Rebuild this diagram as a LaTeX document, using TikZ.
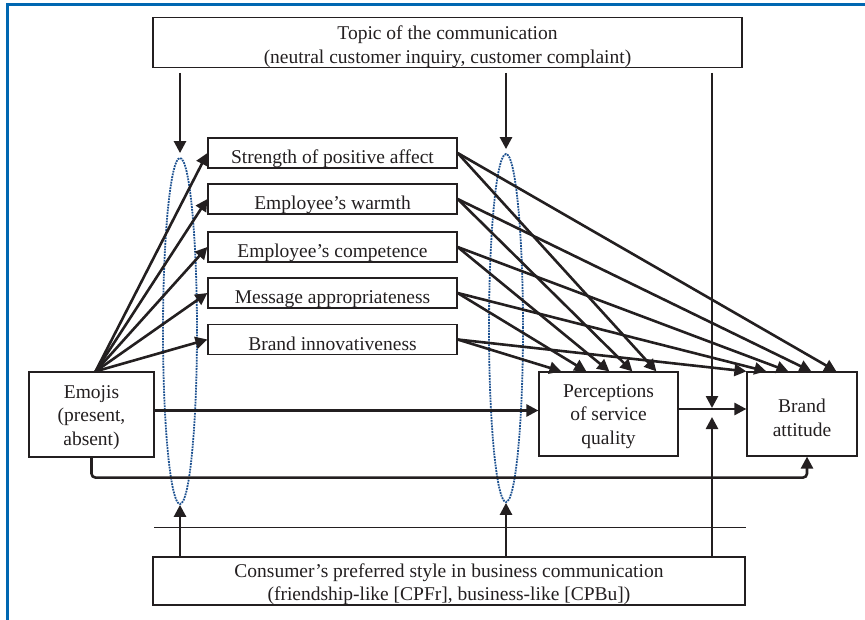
\documentclass[tikz,border=0pt]{standalone}
\usepackage{fontspec}
\setmainfont{Liberation Serif}
\usepackage{xcolor}
\usetikzlibrary{shapes.geometric, arrows.meta, positioning, calc}
\definecolor{framecol}{RGB}{0,103,177}
\definecolor{ellcol}{RGB}{30,82,145}
\definecolor{inkcol}{RGB}{35,31,32}
\newcommand{\lowstrut}[1]{\rule{0pt}{#1}}

\begin{document}
\begin{tikzpicture}[x=1pt, y=-1pt,
    box/.style={draw=inkcol, text=inkcol, line width=1.2pt, align=center, inner sep=0pt,
        font=\fontsize{19.5}{23.5}\selectfont},
    medbox/.style={box, minimum width=249, minimum height=30, text height=23pt, text depth=1pt},
    arr/.style={draw=inkcol, line width=2.6pt, -{Triangle[length=12pt, width=12pt]}},
    ell/.style={ellipse, draw=ellcol, densely dotted, line width=1.8pt, inner sep=0pt}]
\useasboundingbox (0,0) rectangle (865,620);
% Frame
\draw[framecol, line width=3pt] (7,620) -- (7,5) -- (865,5);

% Moderators
\node[box, minimum width=589, minimum height=49] (topic) at (447.5,42.5)
    {\lowstrut{22pt}Topic of the communication\\(neutral customer inquiry, customer complaint)};
\node[box, minimum width=592, minimum height=48] (pref) at (449,581)
    {\lowstrut{20pt}Consumer's preferred style in business communication\\(friendship-like [CPFr], business-like [CPBu])};

% Mediators
\foreach \n/\y/\t in {1/153/Strength of positive affect, 2/199/Employee's warmth,
        3/247/Employee's competence, 4/293/Message appropriateness,
        5/339.5/Brand innovativeness} {
    \node[medbox] (m\n) at (332.5,\y) {\t};
}

% Emojis and outcomes
\node[box, minimum width=125, minimum height=85] (emo) at (91.5,414.5) {\lowstrut{19pt}Emojis\\(present,\\absent)};
\node[box, minimum width=139, minimum height=84] (perc) at (608.5,414) {\lowstrut{17.5pt}Perceptions\\of service\\quality};
\node[box, minimum width=110, minimum height=84] (brand) at (802,414) {\lowstrut{21.5pt}Brand\\attitude};

% Moderated paths
\node[ell, minimum width=34, minimum height=346] (e1) at (180,331) {};
\node[ell, minimum width=34, minimum height=348] (e2) at (506,328) {};
\coordinate (jn) at (712,409);

\draw[arr, shorten <=5pt, shorten >=4pt] (topic.south -| e1.north) -- (e1.north);
\draw[arr, shorten <=5pt, shorten >=4pt] (topic.south -| e2.north) -- (e2.north);
\draw[arr, shorten <=5pt, shorten >=1pt] (topic.south -| jn) -- (jn);
\draw[arr] (pref.north -| e1.south) -- (e1.south);
\draw[arr] (pref.north -| e2.south) -- (e2.south);
\draw[arr, shorten >=8pt] (pref.north -| jn) -- (jn);
\draw[inkcol, line width=0.9pt] (154,527) -- (746,527);

% Emojis to mediators
\foreach \n in {1,...,5} {
    \draw[arr] ([xshift=4pt]emo.north) -- (m\n.west);
}

% Mediators to outcomes
\foreach \n/\p/\b in {1/118/90, 2/94/65, 3/71/42, 4/48/20, 5/23/0} {
    \draw[arr] (m\n.east) -- ([xshift=\p pt]perc.north west);
    \draw[arr] (m\n.east) -- ([xshift=\b pt]brand.north west);
}

% Direct paths
\draw[arr] ([yshift=4pt]emo.east) -- ([yshift=4pt]emo.east -| perc.west);
\draw[arr] (perc.east |- jn) -- (jn -| brand.west);
\draw[arr, rounded corners=4pt] (emo.south) -- ++(0,20) -| ([xshift=5pt]brand.south);
\end{tikzpicture}
\end{document}
